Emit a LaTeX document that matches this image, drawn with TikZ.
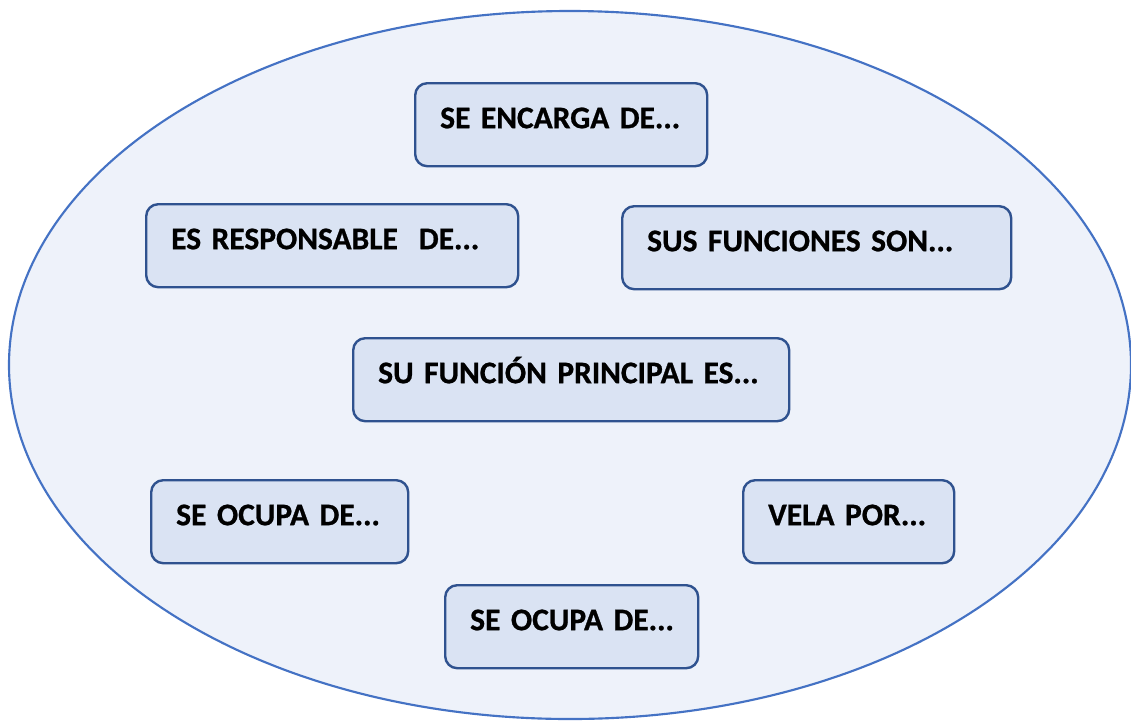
\documentclass[tikz,border=0pt]{standalone}
\usepackage{fontspec}
\setmainfont{Carlito}[BoldFont={* Bold},BoldFeatures={FakeBold=0.8}]
\usepackage{xcolor}
\usepackage{tikz}
\definecolor{ovalfill}{HTML}{EEF2FA}
\definecolor{ovalline}{HTML}{4472C4}
\definecolor{boxfill}{HTML}{DAE3F3}
\definecolor{boxline}{HTML}{2F528F}
\tikzset{myoval/.style = {draw=ovalline,fill=ovalfill,line width=1.6pt},
  mybox/.style = {draw=boxline,fill=boxfill,line width=1.8pt,rounded corners=9pt,
    anchor=north west,align=left,inner xsep=18.75pt,inner ysep=0pt,
    text height=33.75pt,text depth=28.5pt,
    font=\fontsize{23.6}{28}\selectfont\bfseries,text width=#1}}
\NewDocumentCommand{\fcaja}{m m m m m}{%
\node[mybox={#4*0.75pt}] (#1) at (#2,#3) {\mbox{#5}};
}

\begin{document}
\begin{tikzpicture}[x=0.75pt,y=-0.75pt]
\useasboundingbox (0,0) rectangle (1131,722);
\draw[myoval] (570,365) ellipse [x radius=561, y radius=354];

\fcaja{encarga}{414}{82}{242}{SE ENCARGA DE...}
\fcaja{responsable}{145}{203}{322}{ES RESPONSABLE\ \ DE...}
\fcaja{funciones}{621}{205}{339}{SUS FUNCIONES SON...}
\fcaja{principal}{352}{337}{386}{SU FUNCIÓN PRINCIPAL ES...}
\fcaja{ocupaA}{150}{479}{207}{SE OCUPA DE...}
\fcaja{vela}{742}{479}{161}{VELA POR...}
\fcaja{ocupaB}{444}{584}{203}{SE OCUPA DE...}
\end{tikzpicture}
\end{document}
